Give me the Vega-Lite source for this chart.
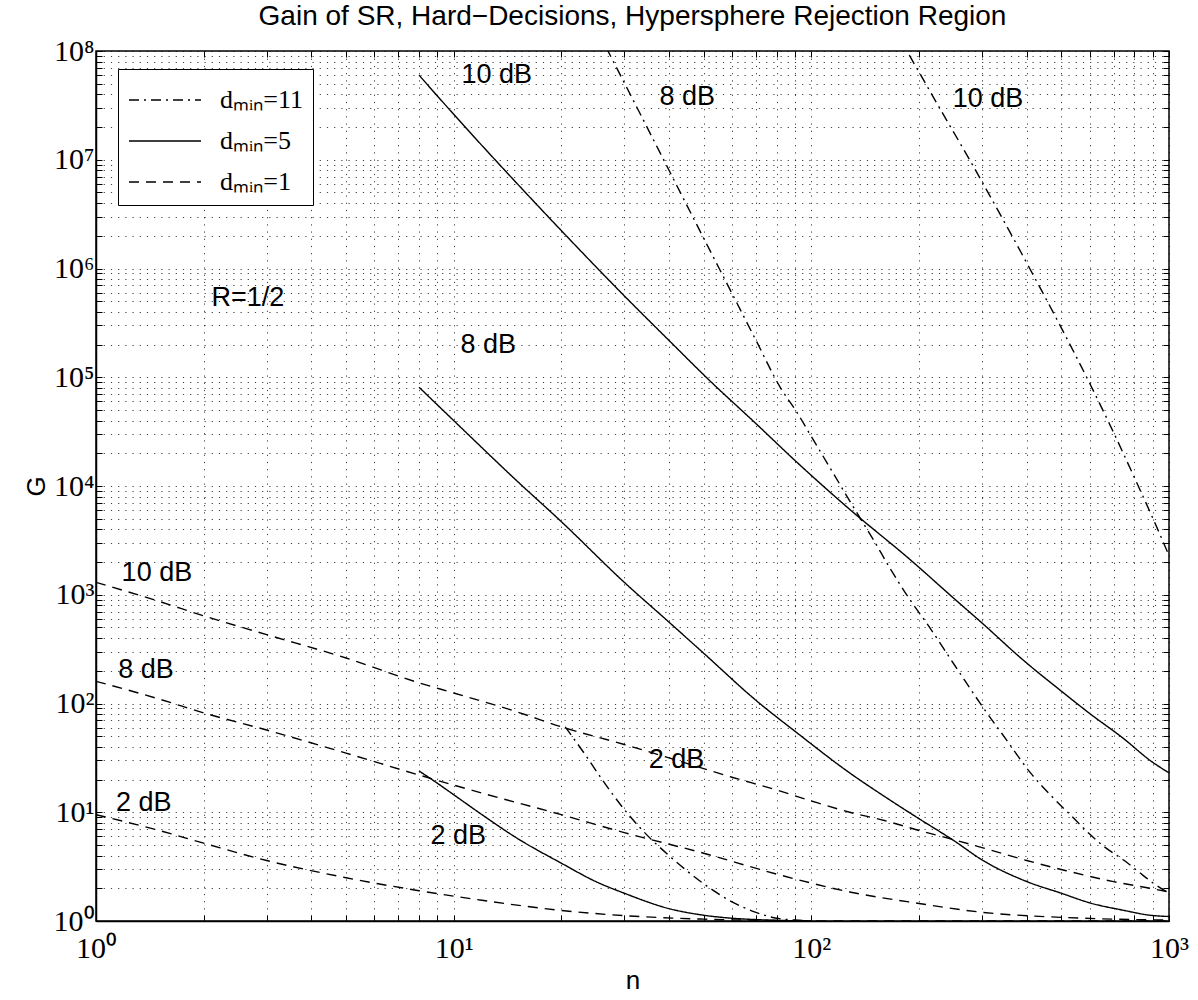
{
  "$schema": "https://vega.github.io/schema/vega-lite/v6.json",
  "autosize": "none",
  "width": 1073,
  "height": 870,
  "padding": {"left": 96, "top": 51, "right": 29, "bottom": 79},
  "background": "white",
  "config": {
    "view": {"stroke": "black", "strokeWidth": 1.5},
    "axis": {
      "domainColor": "black", "domainWidth": 1.5,
      "tickColor": "black", "tickSize": -6, "tickWidth": 1,
      "grid": true, "gridColor": "black", "gridDash": [1.2, 6], "gridOpacity": 0.75, "gridWidth": 1,
      "labelFont": "Liberation Serif", "labelFontSize": 30, "labelColor": "black",
      "labelOverlap": false, "labelBound": false, "labelFlush": false,
      "titleFont": "Liberation Sans", "titleFontSize": 26, "titleFontWeight": "normal", "titleColor": "black"
    }
  },
  "title": {
    "text": "Gain of SR, Hard−Decisions, Hypersphere Rejection Region",
    "font": "Liberation Sans", "fontSize": 28, "fontWeight": "normal", "color": "black",
    "anchor": "middle", "frame": "group", "baseline": "alphabetic", "offset": 10, "dy": 27
  },
  "resolve": {"axis": {"x": "independent", "y": "independent"}},
  "datasets": {
    "curves": [
      {"d": "dₘᵢₙ=5", "snr": "10 dB", "n": 8, "G": 60000000},
      {"d": "dₘᵢₙ=5", "snr": "10 dB", "n": 10, "G": 26200000},
      {"d": "dₘᵢₙ=5", "snr": "10 dB", "n": 15, "G": 6100000},
      {"d": "dₘᵢₙ=5", "snr": "10 dB", "n": 20, "G": 2230000},
      {"d": "dₘᵢₙ=5", "snr": "10 dB", "n": 30, "G": 560000},
      {"d": "dₘᵢₙ=5", "snr": "10 dB", "n": 40, "G": 218000},
      {"d": "dₘᵢₙ=5", "snr": "10 dB", "n": 52, "G": 93000},
      {"d": "dₘᵢₙ=5", "snr": "10 dB", "n": 70, "G": 37500},
      {"d": "dₘᵢₙ=5", "snr": "10 dB", "n": 91, "G": 16600},
      {"d": "dₘᵢₙ=5", "snr": "10 dB", "n": 128, "G": 6100},
      {"d": "dₘᵢₙ=5", "snr": "10 dB", "n": 189, "G": 2100},
      {"d": "dₘᵢₙ=5", "snr": "10 dB", "n": 250, "G": 930},
      {"d": "dₘᵢₙ=5", "snr": "10 dB", "n": 300, "G": 550},
      {"d": "dₘᵢₙ=5", "snr": "10 dB", "n": 391, "G": 251},
      {"d": "dₘᵢₙ=5", "snr": "10 dB", "n": 500, "G": 130},
      {"d": "dₘᵢₙ=5", "snr": "10 dB", "n": 600, "G": 81},
      {"d": "dₘᵢₙ=5", "snr": "10 dB", "n": 750, "G": 47},
      {"d": "dₘᵢₙ=5", "snr": "10 dB", "n": 885, "G": 30},
      {"d": "dₘᵢₙ=5", "snr": "10 dB", "n": 1000, "G": 23},

      {"d": "dₘᵢₙ=5", "snr": "8 dB", "n": 8, "G": 81000},
      {"d": "dₘᵢₙ=5", "snr": "8 dB", "n": 10, "G": 40000},
      {"d": "dₘᵢₙ=5", "snr": "8 dB", "n": 15, "G": 11200},
      {"d": "dₘᵢₙ=5", "snr": "8 dB", "n": 20, "G": 4700},
      {"d": "dₘᵢₙ=5", "snr": "8 dB", "n": 30, "G": 1300},
      {"d": "dₘᵢₙ=5", "snr": "8 dB", "n": 40, "G": 560},
      {"d": "dₘᵢₙ=5", "snr": "8 dB", "n": 50, "G": 290},
      {"d": "dₘᵢₙ=5", "snr": "8 dB", "n": 70, "G": 107},
      {"d": "dₘᵢₙ=5", "snr": "8 dB", "n": 91, "G": 54},
      {"d": "dₘᵢₙ=5", "snr": "8 dB", "n": 128, "G": 23},
      {"d": "dₘᵢₙ=5", "snr": "8 dB", "n": 160, "G": 14},
      {"d": "dₘᵢₙ=5", "snr": "8 dB", "n": 197, "G": 9},
      {"d": "dₘᵢₙ=5", "snr": "8 dB", "n": 250, "G": 5.5},
      {"d": "dₘᵢₙ=5", "snr": "8 dB", "n": 302, "G": 3.6},
      {"d": "dₘᵢₙ=5", "snr": "8 dB", "n": 401, "G": 2.3},
      {"d": "dₘᵢₙ=5", "snr": "8 dB", "n": 500, "G": 1.8},
      {"d": "dₘᵢₙ=5", "snr": "8 dB", "n": 600, "G": 1.47},
      {"d": "dₘᵢₙ=5", "snr": "8 dB", "n": 750, "G": 1.25},
      {"d": "dₘᵢₙ=5", "snr": "8 dB", "n": 885, "G": 1.13},
      {"d": "dₘᵢₙ=5", "snr": "8 dB", "n": 1000, "G": 1.1},

      {"d": "dₘᵢₙ=5", "snr": "2 dB", "n": 8, "G": 24},
      {"d": "dₘᵢₙ=5", "snr": "2 dB", "n": 9, "G": 18.5},
      {"d": "dₘᵢₙ=5", "snr": "2 dB", "n": 10, "G": 14.5},
      {"d": "dₘᵢₙ=5", "snr": "2 dB", "n": 12, "G": 9.5},
      {"d": "dₘᵢₙ=5", "snr": "2 dB", "n": 15, "G": 5.8},
      {"d": "dₘᵢₙ=5", "snr": "2 dB", "n": 20, "G": 3.4},
      {"d": "dₘᵢₙ=5", "snr": "2 dB", "n": 25, "G": 2.3},
      {"d": "dₘᵢₙ=5", "snr": "2 dB", "n": 30, "G": 1.8},
      {"d": "dₘᵢₙ=5", "snr": "2 dB", "n": 40, "G": 1.3},
      {"d": "dₘᵢₙ=5", "snr": "2 dB", "n": 50, "G": 1.13},
      {"d": "dₘᵢₙ=5", "snr": "2 dB", "n": 60, "G": 1.06},
      {"d": "dₘᵢₙ=5", "snr": "2 dB", "n": 70, "G": 1.03},
      {"d": "dₘᵢₙ=5", "snr": "2 dB", "n": 85, "G": 1.01},
      {"d": "dₘᵢₙ=5", "snr": "2 dB", "n": 100, "G": 1.0},

      {"d": "dₘᵢₙ=1", "snr": "10 dB", "n": 1, "G": 1300},
      {"d": "dₘᵢₙ=1", "snr": "10 dB", "n": 1.5, "G": 870},
      {"d": "dₘᵢₙ=1", "snr": "10 dB", "n": 2, "G": 640},
      {"d": "dₘᵢₙ=1", "snr": "10 dB", "n": 3, "G": 430},
      {"d": "dₘᵢₙ=1", "snr": "10 dB", "n": 5, "G": 262},
      {"d": "dₘᵢₙ=1", "snr": "10 dB", "n": 8, "G": 155},
      {"d": "dₘᵢₙ=1", "snr": "10 dB", "n": 10, "G": 125},
      {"d": "dₘᵢₙ=1", "snr": "10 dB", "n": 15, "G": 84},
      {"d": "dₘᵢₙ=1", "snr": "10 dB", "n": 20, "G": 61},
      {"d": "dₘᵢₙ=1", "snr": "10 dB", "n": 30, "G": 42},
      {"d": "dₘᵢₙ=1", "snr": "10 dB", "n": 40, "G": 31.6},
      {"d": "dₘᵢₙ=1", "snr": "10 dB", "n": 60, "G": 21},
      {"d": "dₘᵢₙ=1", "snr": "10 dB", "n": 80, "G": 16},
      {"d": "dₘᵢₙ=1", "snr": "10 dB", "n": 100, "G": 12.7},
      {"d": "dₘᵢₙ=1", "snr": "10 dB", "n": 128, "G": 10},
      {"d": "dₘᵢₙ=1", "snr": "10 dB", "n": 160, "G": 8.4},
      {"d": "dₘᵢₙ=1", "snr": "10 dB", "n": 200, "G": 6.8},
      {"d": "dₘᵢₙ=1", "snr": "10 dB", "n": 250, "G": 5.6},
      {"d": "dₘᵢₙ=1", "snr": "10 dB", "n": 302, "G": 4.7},
      {"d": "dₘᵢₙ=1", "snr": "10 dB", "n": 400, "G": 3.6},
      {"d": "dₘᵢₙ=1", "snr": "10 dB", "n": 516, "G": 2.9},
      {"d": "dₘᵢₙ=1", "snr": "10 dB", "n": 700, "G": 2.3},
      {"d": "dₘᵢₙ=1", "snr": "10 dB", "n": 885, "G": 2.0},
      {"d": "dₘᵢₙ=1", "snr": "10 dB", "n": 1000, "G": 1.85},

      {"d": "dₘᵢₙ=1", "snr": "8 dB", "n": 1, "G": 160},
      {"d": "dₘᵢₙ=1", "snr": "8 dB", "n": 1.5, "G": 110},
      {"d": "dₘᵢₙ=1", "snr": "8 dB", "n": 2, "G": 82},
      {"d": "dₘᵢₙ=1", "snr": "8 dB", "n": 3, "G": 57},
      {"d": "dₘᵢₙ=1", "snr": "8 dB", "n": 5, "G": 35},
      {"d": "dₘᵢₙ=1", "snr": "8 dB", "n": 8, "G": 22},
      {"d": "dₘᵢₙ=1", "snr": "8 dB", "n": 12, "G": 15},
      {"d": "dₘᵢₙ=1", "snr": "8 dB", "n": 20, "G": 9.5},
      {"d": "dₘᵢₙ=1", "snr": "8 dB", "n": 30, "G": 6.5},
      {"d": "dₘᵢₙ=1", "snr": "8 dB", "n": 50, "G": 4.2},
      {"d": "dₘᵢₙ=1", "snr": "8 dB", "n": 80, "G": 2.7},
      {"d": "dₘᵢₙ=1", "snr": "8 dB", "n": 128, "G": 1.85},
      {"d": "dₘᵢₙ=1", "snr": "8 dB", "n": 200, "G": 1.45},
      {"d": "dₘᵢₙ=1", "snr": "8 dB", "n": 302, "G": 1.2},
      {"d": "dₘᵢₙ=1", "snr": "8 dB", "n": 500, "G": 1.08},
      {"d": "dₘᵢₙ=1", "snr": "8 dB", "n": 700, "G": 1.04},
      {"d": "dₘᵢₙ=1", "snr": "8 dB", "n": 1000, "G": 1.02},

      {"d": "dₘᵢₙ=1", "snr": "2 dB", "n": 1, "G": 9.5},
      {"d": "dₘᵢₙ=1", "snr": "2 dB", "n": 1.5, "G": 6.8},
      {"d": "dₘᵢₙ=1", "snr": "2 dB", "n": 2, "G": 5.2},
      {"d": "dₘᵢₙ=1", "snr": "2 dB", "n": 3, "G": 3.6},
      {"d": "dₘᵢₙ=1", "snr": "2 dB", "n": 5, "G": 2.5},
      {"d": "dₘᵢₙ=1", "snr": "2 dB", "n": 8, "G": 1.9},
      {"d": "dₘᵢₙ=1", "snr": "2 dB", "n": 12, "G": 1.55},
      {"d": "dₘᵢₙ=1", "snr": "2 dB", "n": 20, "G": 1.25},
      {"d": "dₘᵢₙ=1", "snr": "2 dB", "n": 30, "G": 1.12},
      {"d": "dₘᵢₙ=1", "snr": "2 dB", "n": 50, "G": 1.04},
      {"d": "dₘᵢₙ=1", "snr": "2 dB", "n": 80, "G": 1.01},
      {"d": "dₘᵢₙ=1", "snr": "2 dB", "n": 150, "G": 1.0},
      {"d": "dₘᵢₙ=1", "snr": "2 dB", "n": 1000, "G": 1.0},

      {"d": "dₘᵢₙ=11", "snr": "8 dB", "n": 22, "G": 370000000},
      {"d": "dₘᵢₙ=11", "snr": "8 dB", "n": 27, "G": 100000000},
      {"d": "dₘᵢₙ=11", "snr": "8 dB", "n": 30, "G": 51000000},
      {"d": "dₘᵢₙ=11", "snr": "8 dB", "n": 40, "G": 8000000},
      {"d": "dₘᵢₙ=11", "snr": "8 dB", "n": 50, "G": 1900000},
      {"d": "dₘᵢₙ=11", "snr": "8 dB", "n": 60, "G": 590000},
      {"d": "dₘᵢₙ=11", "snr": "8 dB", "n": 70, "G": 219000},
      {"d": "dₘᵢₙ=11", "snr": "8 dB", "n": 82, "G": 80000},
      {"d": "dₘᵢₙ=11", "snr": "8 dB", "n": 91, "G": 48000},
      {"d": "dₘᵢₙ=11", "snr": "8 dB", "n": 100, "G": 28500},
      {"d": "dₘᵢₙ=11", "snr": "8 dB", "n": 115, "G": 13200},
      {"d": "dₘᵢₙ=11", "snr": "8 dB", "n": 130, "G": 6700},
      {"d": "dₘᵢₙ=11", "snr": "8 dB", "n": 150, "G": 3100},
      {"d": "dₘᵢₙ=11", "snr": "8 dB", "n": 166, "G": 1750},
      {"d": "dₘᵢₙ=11", "snr": "8 dB", "n": 190, "G": 870},
      {"d": "dₘᵢₙ=11", "snr": "8 dB", "n": 210, "G": 550},
      {"d": "dₘᵢₙ=11", "snr": "8 dB", "n": 250, "G": 232},
      {"d": "dₘᵢₙ=11", "snr": "8 dB", "n": 302, "G": 92},
      {"d": "dₘᵢₙ=11", "snr": "8 dB", "n": 350, "G": 47},
      {"d": "dₘᵢₙ=11", "snr": "8 dB", "n": 410, "G": 23},
      {"d": "dₘᵢₙ=11", "snr": "8 dB", "n": 470, "G": 14},
      {"d": "dₘᵢₙ=11", "snr": "8 dB", "n": 540, "G": 8.9},
      {"d": "dₘᵢₙ=11", "snr": "8 dB", "n": 600, "G": 6.3},
      {"d": "dₘᵢₙ=11", "snr": "8 dB", "n": 660, "G": 4.8},
      {"d": "dₘᵢₙ=11", "snr": "8 dB", "n": 750, "G": 3.6},
      {"d": "dₘᵢₙ=11", "snr": "8 dB", "n": 826, "G": 2.8},
      {"d": "dₘᵢₙ=11", "snr": "8 dB", "n": 900, "G": 2.25},
      {"d": "dₘᵢₙ=11", "snr": "8 dB", "n": 1000, "G": 1.8},

      {"d": "dₘᵢₙ=11", "snr": "10 dB", "n": 175, "G": 137000000},
      {"d": "dₘᵢₙ=11", "snr": "10 dB", "n": 185, "G": 100000000},
      {"d": "dₘᵢₙ=11", "snr": "10 dB", "n": 230, "G": 28700000},
      {"d": "dₘᵢₙ=11", "snr": "10 dB", "n": 277, "G": 10000000},
      {"d": "dₘᵢₙ=11", "snr": "10 dB", "n": 340, "G": 3000000},
      {"d": "dₘᵢₙ=11", "snr": "10 dB", "n": 408, "G": 1000000},
      {"d": "dₘᵢₙ=11", "snr": "10 dB", "n": 486, "G": 340000},
      {"d": "dₘᵢₙ=11", "snr": "10 dB", "n": 600, "G": 88000},
      {"d": "dₘᵢₙ=11", "snr": "10 dB", "n": 700, "G": 31000},
      {"d": "dₘᵢₙ=11", "snr": "10 dB", "n": 800, "G": 12000},
      {"d": "dₘᵢₙ=11", "snr": "10 dB", "n": 900, "G": 5100},
      {"d": "dₘᵢₙ=11", "snr": "10 dB", "n": 1000, "G": 2300},

      {"d": "dₘᵢₙ=11", "snr": "2 dB", "n": 20.5, "G": 61},
      {"d": "dₘᵢₙ=11", "snr": "2 dB", "n": 23.3, "G": 34},
      {"d": "dₘᵢₙ=11", "snr": "2 dB", "n": 26, "G": 20},
      {"d": "dₘᵢₙ=11", "snr": "2 dB", "n": 30, "G": 10.6},
      {"d": "dₘᵢₙ=11", "snr": "2 dB", "n": 35, "G": 6.0},
      {"d": "dₘᵢₙ=11", "snr": "2 dB", "n": 40, "G": 4.0},
      {"d": "dₘᵢₙ=11", "snr": "2 dB", "n": 50, "G": 2.2},
      {"d": "dₘᵢₙ=11", "snr": "2 dB", "n": 60, "G": 1.5},
      {"d": "dₘᵢₙ=11", "snr": "2 dB", "n": 70, "G": 1.2},
      {"d": "dₘᵢₙ=11", "snr": "2 dB", "n": 80, "G": 1.06},
      {"d": "dₘᵢₙ=11", "snr": "2 dB", "n": 90, "G": 1.02},
      {"d": "dₘᵢₙ=11", "snr": "2 dB", "n": 100, "G": 1.0}
    ],
    "labels": [
      {"text": "10 dB", "n": 13.2, "G": 60000000},
      {"text": "8 dB", "n": 12.5, "G": 200000},
      {"text": "2 dB", "n": 10.3, "G": 6.0},
      {"text": "8 dB", "n": 45, "G": 38000000},
      {"text": "10 dB", "n": 312, "G": 36000000},
      {"text": "2 dB", "n": 42, "G": 30},
      {"text": "10 dB", "n": 1.48, "G": 1580},
      {"text": "8 dB", "n": 1.38, "G": 204},
      {"text": "2 dB", "n": 1.36, "G": 12.2},
      {"text": "R=1/2", "n": 2.66, "G": 540000}
    ]
  },
  "layer": [
    {
      "data": {"name": "curves"},
      "mark": {"type": "line", "clip": true, "color": "black", "strokeWidth": 1.4, "interpolate": "monotone"},
      "encoding": {
        "x": {
          "field": "n", "type": "quantitative", "title": "n",
          "scale": {"type": "log", "domain": [1, 1000], "nice": false},
          "axis": {
            "orient": "bottom",
            "values": [1,2,3,4,5,6,7,8,9,10,20,30,40,50,60,70,80,90,100,200,300,400,500,600,700,800,900,1000],
            "labelExpr": "abs(log(datum.value)/LN10 - round(log(datum.value)/LN10)) < 0.001 ? '10' + ['⁰','¹','²','³','⁴','⁵','⁶','⁷','⁸'][round(log(datum.value)/LN10)] : ''",
            "labelPadding": 18, "titlePadding": 4
          }
        },
        "y": {
          "field": "G", "type": "quantitative", "title": "G",
          "scale": {"type": "log", "domain": [1, 100000000], "nice": false},
          "axis": {
            "orient": "left",
            "values": [1,2,3,4,5,6,7,8,9,10,20,30,40,50,60,70,80,90,100,200,300,400,500,600,700,800,900,1000,2000,3000,4000,5000,6000,7000,8000,9000,10000,20000,30000,40000,50000,60000,70000,80000,90000,100000,200000,300000,400000,500000,600000,700000,800000,900000,1000000,2000000,3000000,4000000,5000000,6000000,7000000,8000000,9000000,10000000,20000000,30000000,40000000,50000000,60000000,70000000,80000000,90000000,100000000],
            "labelExpr": "abs(log(datum.value)/LN10 - round(log(datum.value)/LN10)) < 0.001 ? '10' + ['⁰','¹','²','³','⁴','⁵','⁶','⁷','⁸'][round(log(datum.value)/LN10)] : ''",
            "labelPadding": 8, "titlePadding": 4
          }
        },
        "strokeDash": {
          "field": "d", "type": "nominal",
          "scale": {"domain": ["dₘᵢₙ=11", "dₘᵢₙ=5", "dₘᵢₙ=1"], "range": [[10, 5, 2, 5], [1, 0], [10, 7]]},
          "legend": {
            "title": null, "orient": "none", "legendX": 22, "legendY": 18,
            "symbolType": "M-1.8,0H1.8", "symbolSize": 1600, "symbolOffset": 16,
            "symbolStrokeWidth": 1.4, "symbolStrokeColor": "black",
            "labelFont": "Liberation Serif", "labelFontSize": 26, "labelColor": "black",
            "labelOffset": 34, "labelLimit": 200,
            "strokeColor": "black", "fillColor": "white", "padding": 10, "rowPadding": 7
          }
        },
        "detail": {"field": "snr"}
      }
    },
    {
      "data": {"name": "labels"},
      "mark": {"type": "text", "font": "Liberation Sans", "fontSize": 27, "color": "black", "align": "center", "baseline": "middle"},
      "encoding": {
        "x": {
          "field": "n", "type": "quantitative",
          "axis": {
            "orient": "top", "title": null, "labels": false, "grid": false, "domain": false,
            "values": [1,2,3,4,5,6,7,8,9,10,20,30,40,50,60,70,80,90,100,200,300,400,500,600,700,800,900,1000]
          }
        },
        "y": {
          "field": "G", "type": "quantitative",
          "axis": {
            "orient": "right", "title": null, "labels": false, "grid": false, "domain": false,
            "values": [1,2,3,4,5,6,7,8,9,10,20,30,40,50,60,70,80,90,100,200,300,400,500,600,700,800,900,1000,2000,3000,4000,5000,6000,7000,8000,9000,10000,20000,30000,40000,50000,60000,70000,80000,90000,100000,200000,300000,400000,500000,600000,700000,800000,900000,1000000,2000000,3000000,4000000,5000000,6000000,7000000,8000000,9000000,10000000,20000000,30000000,40000000,50000000,60000000,70000000,80000000,90000000,100000000]
          }
        },
        "text": {"field": "text"}
      }
    }
  ]
}
